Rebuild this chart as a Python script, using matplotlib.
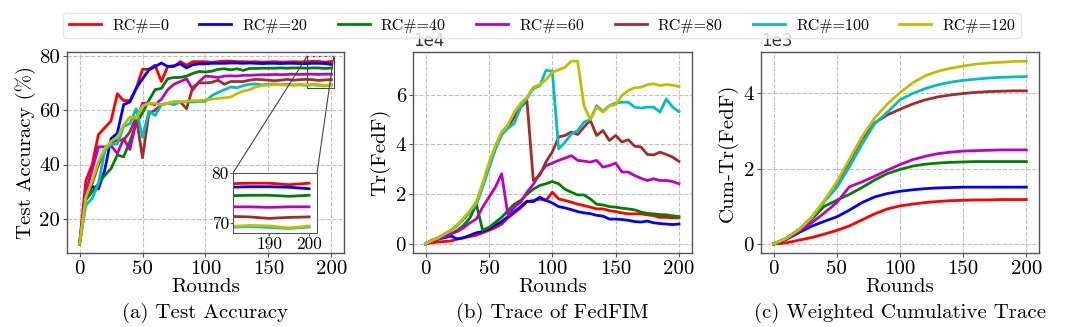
import numpy as np
import matplotlib
matplotlib.use("Agg")
import matplotlib.pyplot as plt
from mpl_toolkits.axes_grid1.inset_locator import mark_inset

plt.rcParams['font.family'] = ['cmr10', 'DejaVu Serif']
plt.rcParams['mathtext.fontset'] = 'cm'
plt.rcParams['axes.unicode_minus'] = False

# data
rounds = np.arange(0, 201, 5)
rounds_cum = np.arange(0, 201, 10)
labels = ["RC#=0", "RC#=20", "RC#=40", "RC#=60", "RC#=80", "RC#=100", "RC#=120"]
colors = ["red", "blue", "g", "m", "brown", "c", "y"]

# (a) test accuracy (%)
acc_0 = [10.8, 34, 40, 51, 53.5, 56, 66, 63.5, 63.5, 68, 75,
         75, 76.5, 70.5, 76, 76, 77.8, 76.5, 77.8, 77.8, 77.8,
         77.5, 77.8, 78, 78, 77.8, 77.8, 77.7, 77.8, 77.6, 77.7,
         77.8, 77.6, 77.7, 77.8, 77.7, 77.8, 77.9, 77.9, 77.6, 77.9]
acc_20 = [10.8, 28, 32, 31, 38, 49.5, 51.5, 62, 63, 68, 71.5,
          74.7, 76, 77.3, 76, 76.3, 77, 75.5, 76.7, 77, 77,
          77.2, 77.2, 77.2, 77.3, 77.3, 77.2, 77.3, 77.2, 77.1, 77.2,
          77.2, 77.1, 77.2, 77.2, 77.1, 77.1, 77.2, 77.2, 77.1, 76.8]
acc_40 = [10.8, 27, 30, 33, 36, 38.5, 43.5, 42.8, 48.5, 55, 59,
          63.5, 67.5, 68, 71.5, 72, 72, 72.5, 73.5, 74.2, 74,
          74.3, 75, 75.2, 74.8, 75.2, 74.6, 75.3, 75.3, 75.4, 75.4,
          75.4, 75.5, 75.4, 75.5, 75.5, 75.4, 75.5, 75.5, 75.3, 75.5]
acc_60 = [10.8, 30, 38, 46.5, 46.5, 47, 44, 49.5, 45.5, 56, 62.5,
          62.5, 62, 64, 67.5, 69.5, 70.5, 71.5, 67.5, 70.5, 72.5,
          72.3, 72, 72.5, 72.6, 72.5, 72.8, 72.8, 72.9, 73, 73,
          73.1, 73, 73.1, 73.2, 73.1, 73.2, 73.2, 73.1, 73.2, 73.2]
acc_80 = [10.8, 28, 33, 40, 45, 48, 49, 49, 52, 57.5, 42.5,
          58.5, 60, 62, 62.5, 63, 63, 60.5, 68.5, 70, 70,
          70.2, 71, 69.5, 70.5, 70.5, 70.5, 71, 71.3, 71.2, 71,
          70.8, 71, 71.3, 71, 71.2, 71.3, 71.2, 70.9, 71.1, 71.2]
acc_100 = [10.8, 25, 27.5, 33, 45, 47.5, 47.5, 54, 55, 60.5, 50,
           59.5, 58, 62, 62.5, 62, 63, 63, 63, 63.2, 63.2,
           65.3, 66.5, 67.5, 68.5, 68.2, 69, 69.5, 69.6, 69.3, 69.5,
           69.6, 69.3, 69.5, 69.2, 69.4, 69.1, 69.3, 69.1, 68.9, 69.2]
acc_120 = [10.8, 28, 34, 41, 46, 48.5, 50, 54.5, 57.5, 57, 61.5,
           62.5, 62.5, 62, 62.5, 63, 63, 63.3, 63.5, 63.5, 63.7,
           64, 64.3, 64.5, 64.8, 66, 67, 67.5, 68.5, 69, 69.2,
           69.3, 69.3, 69.1, 69.3, 69.2, 69.3, 69.5, 69.4, 69, 69.4]

# (b) Tr(FedF), in units of 1e4
tr_0 = [0, 0.05, 0.08, 0.1, 0.12, 0.2, 0.25, 0.3, 0.35, 0.45, 0.55,
        0.65, 0.8, 1.05, 1.25, 1.45, 1.7, 1.75, 1.8, 1.75, 2.08,
        1.81, 1.75, 1.68, 1.6, 1.54, 1.48, 1.41, 1.41, 1.34, 1.3,
        1.25, 1.21, 1.21, 1.21, 1.17, 1.14, 1.07, 1.07, 1.05, 1.05]
tr_20 = [0, 0.15, 0.2, 0.25, 0.32, 0.2, 0.25, 0.35, 0.45, 0.5, 0.6,
         0.75, 0.9, 1.1, 1.3, 1.5, 1.72, 1.7, 1.88, 1.75, 1.65,
         1.5, 1.45, 1.38, 1.3, 1.25, 1.22, 1.15, 1.12, 1.0, 1.0,
         0.98, 0.95, 0.9, 0.88, 0.92, 0.85, 0.82, 0.8, 0.78, 0.8]
tr_40 = [0, 0.15, 0.2, 0.3, 0.4, 0.55, 0.75, 1.05, 1.6, 0.55, 0.67,
         0.87, 1.07, 1.34, 1.6, 1.75, 2.0, 2.2, 2.35, 2.42, 2.51,
         2.42, 2.2, 2.08, 1.97, 1.97, 1.81, 1.6, 1.57, 1.5, 1.48,
         1.44, 1.41, 1.37, 1.28, 1.23, 1.21, 1.18, 1.17, 1.13, 1.1]
tr_60 = [0, 0.15, 0.2, 0.3, 0.4, 0.5, 0.65, 0.85, 1.0, 1.48, 1.88,
         2.28, 2.82, 1.15, 1.48, 1.68, 2.08, 2.4, 2.82, 3.15, 3.25,
         3.36, 3.45, 3.55, 3.36, 3.33, 3.29, 3.36, 3.09, 3.15, 3.25,
         2.89, 2.89, 2.75, 2.64, 2.55, 2.62, 2.55, 2.55, 2.51, 2.42]
tr_80 = [0, 0.15, 0.25, 0.4, 0.55, 0.75, 1.0, 1.3, 1.6, 2.35, 3.1,
         3.85, 4.4, 4.7, 5.1, 5.5, 5.75, 2.55, 2.75, 3.3, 3.7,
         4.3, 4.36, 4.5, 4.4, 4.7, 4.97, 4.36, 4.56, 4.16, 4.36,
         4.1, 4.19, 3.93, 3.9, 3.6, 3.58, 3.69, 3.6, 3.49, 3.32]
tr_100 = [0, 0.15, 0.25, 0.4, 0.55, 0.75, 1.0, 1.3, 1.6, 2.3, 3.05,
          3.8, 4.4, 4.65, 4.85, 5.5, 5.85, 6.25, 6.35, 6.98, 6.95,
          3.82, 4.09, 4.42, 4.56, 4.9, 5.0, 5.56, 5.33, 5.56, 5.66,
          5.7, 5.7, 5.5, 5.46, 5.5, 5.5, 5.3, 5.83, 5.5, 5.32]
tr_120 = [0, 0.15, 0.25, 0.4, 0.55, 0.78, 1.05, 1.35, 1.7, 2.45, 3.25,
          3.95, 4.5, 4.8, 5.3, 5.65, 5.9, 6.3, 6.4, 6.6, 6.9,
          7.0, 7.1, 7.35, 7.35, 5.56, 5.0, 5.5, 5.3, 5.56, 5.6,
          5.97, 6.17, 6.28, 6.3, 6.4, 6.44, 6.37, 6.41, 6.38, 6.33]

# (c) Cum-Tr(FedF), in units of 1e3, every 10 rounds
cum_0 = [0, 0.03, 0.1, 0.17, 0.26, 0.36, 0.48, 0.64, 0.8, 0.93, 1.01,
         1.06, 1.1, 1.13, 1.15, 1.16, 1.17, 1.17, 1.18, 1.18, 1.18]
cum_20 = [0, 0.12, 0.3, 0.47, 0.6, 0.72, 0.9, 1.1, 1.25, 1.34, 1.4,
          1.44, 1.47, 1.49, 1.5, 1.51, 1.51, 1.51, 1.51, 1.51, 1.51]
cum_40 = [0, 0.14, 0.36, 0.65, 1.0, 1.16, 1.32, 1.5, 1.7, 1.87, 1.98,
          2.07, 2.12, 2.15, 2.17, 2.18, 2.19, 2.19, 2.19, 2.19, 2.19]
cum_60 = [0, 0.13, 0.33, 0.56, 0.82, 1.1, 1.52, 1.65, 1.8, 1.96, 2.11,
          2.24, 2.33, 2.4, 2.44, 2.47, 2.48, 2.49, 2.5, 2.5, 2.5]
cum_80 = [0, 0.15, 0.38, 0.7, 1.13, 1.6, 2.2, 2.8, 3.22, 3.43, 3.58,
          3.72, 3.83, 3.91, 3.96, 4.0, 4.03, 4.05, 4.06, 4.07, 4.07]
cum_100 = [0, 0.15, 0.38, 0.7, 1.12, 1.5, 2.05, 2.65, 3.2, 3.5, 3.83,
           4.0, 4.13, 4.23, 4.3, 4.35, 4.38, 4.41, 4.43, 4.44, 4.45]
cum_120 = [0, 0.15, 0.38, 0.7, 1.15, 1.65, 2.25, 2.85, 3.35, 3.72, 4.02,
           4.28, 4.47, 4.59, 4.67, 4.73, 4.78, 4.81, 4.83, 4.85, 4.86]

acc = [acc_0, acc_20, acc_40, acc_60, acc_80, acc_100, acc_120]
tr = [tr_0, tr_20, tr_40, tr_60, tr_80, tr_100, tr_120]
cum = [cum_0, cum_20, cum_40, cum_60, cum_80, cum_100, cum_120]

LW = 2.0
FS = 15

fig = plt.figure(figsize=(10.8, 3.27), dpi=100)
ax_a = fig.add_axes([0.062, 0.226, 0.2565, 0.615])
ax_b = fig.add_axes([0.3824, 0.226, 0.258, 0.615])
ax_c = fig.add_axes([0.7046, 0.226, 0.2574, 0.615])


def style(ax):
    ax.grid(True, linestyle='--', color='#c0c0c0', linewidth=0.8)
    for s in ax.spines.values():
        s.set_color('#555555')
        s.set_linewidth(1.0)
    ax.tick_params(labelsize=FS, length=3, color='#555555', pad=2)
    ax.set_xticks([0, 50, 100, 150, 200])
    ax.set_xlabel('Rounds', fontsize=FS, labelpad=0)


for y, c, l in zip(acc, colors, labels):
    ax_a.plot(rounds, y, color=c, lw=LW, label=l)
style(ax_a)
ax_a.set_yticks([20, 40, 60, 80])
ax_a.set_ylabel('Test Accuracy (%)', fontsize=FS, labelpad=2)

# zoomed inset
axins = ax_a.inset_axes([0.60, 0.10, 0.303, 0.30])
for y, c in zip(acc, colors):
    axins.plot(rounds, y, color=c, lw=LW)
axins.set_xlim(181, 202)
axins.set_ylim(68, 80)
axins.set_xticks([190, 200])
axins.set_yticks([70, 80])
axins.tick_params(labelsize=12.5, length=2, pad=1, color='#555555')
for s in axins.spines.values():
    s.set_color('#555555')
mark_inset(ax_a, axins, loc1=1, loc2=2, fc='none', ec='#444444', lw=0.8)

for y, c in zip(tr, colors):
    ax_b.plot(rounds, y, color=c, lw=LW)
style(ax_b)
ax_b.set_yticks([0, 2, 4, 6])
ax_b.set_ylabel('Tr(FedF)', fontsize=FS, labelpad=4)
ax_b.text(0.0, 1.01, '1e4', transform=ax_b.transAxes, fontsize=12,
          family='DejaVu Sans', color='#333333', ha='left', va='bottom')

for y, c in zip(cum, colors):
    ax_c.plot(rounds_cum, y, color=c, lw=LW)
style(ax_c)
ax_c.set_yticks([0, 2, 4])
ax_c.set_ylabel('Cum-Tr(FedF)', fontsize=FS, labelpad=4)
ax_c.text(0.0, 1.01, '1e3', transform=ax_c.transAxes, fontsize=12,
          family='DejaVu Sans', color='#333333', ha='left', va='bottom')

captions = ['(a) Test Accuracy', '(b) Trace of FedFIM', '(c) Weighted Cumulative Trace']
for ax, t in zip([ax_a, ax_b, ax_c], captions):
    ax.text(0.5, -0.30, t, transform=ax.transAxes, fontsize=FS,
            ha='center', va='center')

handles, _ = ax_a.get_legend_handles_labels()
fig.legend(handles, labels, loc='upper center', ncol=7,
           bbox_to_anchor=(0.502, 0.985), fontsize=11.5, handlelength=2.0,
           handletextpad=0.7, columnspacing=1.9, frameon=True, fancybox=True,
           edgecolor='#dddddd', borderpad=0.35)

fig.savefig('out.png', dpi=100)
